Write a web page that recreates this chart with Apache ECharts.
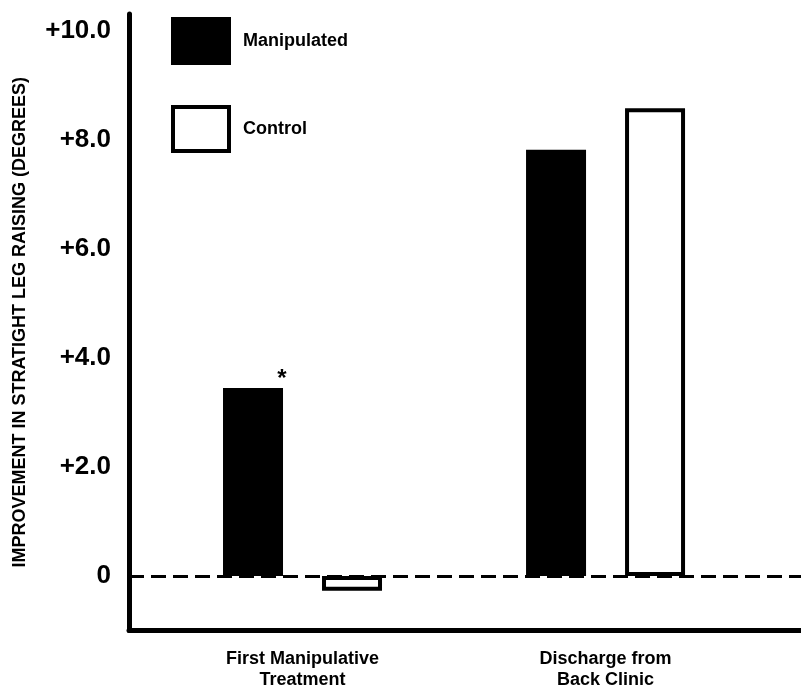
<!DOCTYPE html>
<html>
<head>
<meta charset="utf-8">
<script src="https://cdn.jsdelivr.net/npm/echarts@6/dist/echarts.min.js"></script>
<style>
  html, body { margin: 0; padding: 0; background: #fff; }
  #chart { width: 801px; height: 689px; }
</style>
</head>
<body>
<div id="chart"></div>
<script>
const categories = ['First Manipulative\nTreatment', 'Discharge from\nBack Clinic']
const groupPos = [0, 1]
const manipulated = [3.45, 7.82]
const control = [-0.27, 8.58]
const yTicks = [0, 2, 4, 6, 8, 10]
const yTitle = 'IMPROVEMENT IN STRATIGHT LEG RAISING (DEGREES)'

const font = "'Liberation Sans', Arial, sans-serif"

const chart = echarts.init(document.getElementById('chart'))

chart.setOption({
  backgroundColor: '#fff',
  animation: false,
  textStyle: { fontFamily: font, color: '#000' },
  grid: { left: 129, right: 0, top: 14, bottom: 58.5, outerBoundsMode: 'none', containLabel: false },
  legend: {
    orient: 'vertical',
    left: 171,
    top: 17,
    padding: 0,
    itemWidth: 56,
    itemHeight: 44,
    itemGap: 40,
    selectedMode: false,
    textStyle: { fontFamily: font, fontSize: 18, fontWeight: 'bold', color: '#000', padding: [0, 0, 0, 9] },
    data: [
      { name: 'Manipulated', icon: 'rect', itemStyle: { color: '#000', borderColor: '#000', borderWidth: 4 } },
      { name: 'Control', icon: 'rect', itemStyle: { color: '#fff', borderColor: '#000', borderWidth: 4 } }
    ]
  },
  xAxis: {
    type: 'value',
    min: -0.5726,
    max: 1.645,
    axisLine: { show: true, onZero: false, lineStyle: { color: '#000', width: 5 } },
    axisTick: { show: false },
    splitLine: { show: false },
    axisLabel: {
      customValues: groupPos,
      margin: 18,
      fontFamily: font,
      fontSize: 18,
      fontWeight: 'bold',
      lineHeight: 21,
      color: '#000',
      formatter: (v) => categories[Math.round(v)]
    }
  },
  yAxis: {
    type: 'value',
    min: -1,
    max: 10.31,
    name: yTitle,
    nameLocation: 'middle',
    nameGap: 100,
    nameTextStyle: { fontFamily: font, fontSize: 18, fontWeight: 'bold', color: '#000' },
    axisLine: { show: true, onZero: false, lineStyle: { color: '#000', width: 5 } },
    axisTick: { show: false },
    splitLine: { show: false },
    axisLabel: {
      customValues: yTicks,
      margin: 18,
      fontFamily: font,
      fontSize: 26,
      fontWeight: 'bold',
      color: '#000',
      formatter: (v) => v === 0 ? '0' : '+' + v.toFixed(1)
    }
  },
  series: [
    {
      name: 'Manipulated',
      type: 'bar',
      barWidth: 60,
      barGap: '65%',
      itemStyle: { color: '#000', borderColor: '#000', borderWidth: 4 },
      data: manipulated.map((v, i) => {
        const item = { value: [groupPos[i], v] }
        if (i === 0) {
          item.label = {
            show: true,
            position: 'top',
            offset: [29, 8],
            formatter: '*',
            fontSize: 24,
            fontWeight: 'bold',
            color: '#000'
          }
        }
        return item
      })
    },
    {
      name: 'Control',
      type: 'bar',
      barWidth: 60,
      barGap: '65%',
      itemStyle: { color: '#fff', borderColor: '#000', borderWidth: 4 },
      data: control.map((v, i) => [groupPos[i], v]),
      markLine: {
        silent: true,
        symbol: 'none',
        label: { show: false },
        lineStyle: { color: '#000', width: 3, type: [15, 7] },
        data: [{ yAxis: 0 }]
      }
    }
  ]
})
</script>
</body>
</html>
